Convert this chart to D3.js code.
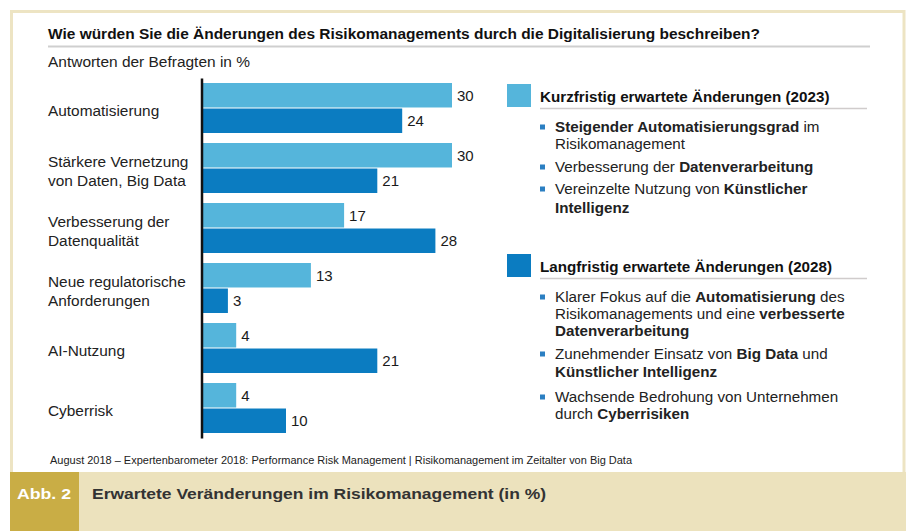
<!DOCTYPE html>
<html>
<head>
<meta charset="utf-8">
<script src="https://cdn.jsdelivr.net/npm/d3@7"></script>
<style>
  html, body { margin: 0; padding: 0; background: #ffffff; }
  svg { display: block; }
  text { font-family: "Liberation Sans", Arial, sans-serif; }
</style>
</head>
<body>
<svg id="chart" width="910" height="531"></svg>
<script>
// ---------- DATA ----------
const categories = ["Automatisierung", "Stärkere Vernetzung von Daten, Big Data", "Verbesserung der Datenqualität", "Neue regulatorische Anforderungen", "AI-Nutzung", "Cyberrisk"];
const categoryLines = [["Automatisierung"], ["Stärkere Vernetzung", "von Daten, Big Data"], ["Verbesserung der", "Datenqualität"], ["Neue regulatorische", "Anforderungen"], ["AI-Nutzung"], ["Cyberrisk"]];
const seriesNames = ["Kurzfristig erwartete Änderungen (2023)", "Langfristig erwartete Änderungen (2028)"];
const shortTerm2023 = [30, 30, 17, 13, 4, 4];
const longTerm2028 = [24, 21, 28, 3, 21, 10];
const seriesColors = ["#55b5db", "#0b7cc1"];

const title = "Wie würden Sie die Änderungen des Risikomanagements durch die Digitalisierung beschreiben?";
const subtitle = "Antworten der Befragten in %";
const sourceNote = "August 2018 – Expertenbarometer 2018: Performance Risk Management | Risikomanagement im Zeitalter von Big Data";
const figLabel = "Abb. 2";
const figCaption = "Erwartete Veränderungen im Risikomanagement (in %)";

// legend bullet lines: arrays of [text, bold]
const bullets2023 = [
  [[["Steigender Automatisierungsgrad", true], [" im", false]], [["Risikomanagement", false]]],
  [[["Verbesserung der ", false], ["Datenverarbeitung", true]]],
  [[["Vereinzelte Nutzung von ", false], ["Künstlicher", true]], [["Intelligenz", true]]]
];
const bullets2028 = [
  [[["Klarer Fokus auf die ", false], ["Automatisierung", true], [" des", false]],
   [["Risikomanagements und eine ", false], ["verbesserte", true]],
   [["Datenverarbeitung", true]]],
  [[["Zunehmender Einsatz von ", false], ["Big Data", true], [" und", false]],
   [["Künstlicher Intelligenz", true]]],
  [[["Wachsende Bedrohung von Unternehmen", false]],
   [["durch ", false], ["Cyberrisiken", true]]]
];

// ---------- DRAW ----------
const svg = d3.select("#chart");

// frame
svg.append("rect").attr("x", 11.5).attr("y", 11.5).attr("width", 892.5).attr("height", 470)
  .attr("fill", "#ffffff").attr("stroke", "#ede4c3").attr("stroke-width", 3);
// caption band
svg.append("rect").attr("x", 10).attr("y", 472).attr("width", 896).attr("height", 59).attr("fill", "#ece2bd");
svg.append("rect").attr("x", 10).attr("y", 472).attr("width", 69).attr("height", 59).attr("fill", "#c9ad45");
svg.append("text").attr("x", 44).attr("y", 499).attr("text-anchor", "middle")
  .attr("fill", "#ffffff").attr("font-weight", "bold").attr("font-size", 15).attr("textLength", 54)
  .attr("lengthAdjust", "spacingAndGlyphs").text(figLabel);
svg.append("text").attr("x", 92).attr("y", 499)
  .attr("fill", "#333333").attr("font-weight", "bold").attr("font-size", 15).attr("textLength", 454)
  .attr("lengthAdjust", "spacingAndGlyphs").text(figCaption);

// title
svg.append("text").attr("x", 48).attr("y", 39).attr("font-weight", "bold").attr("font-size", 14.5)
  .attr("fill", "#111").attr("textLength", 712).attr("lengthAdjust", "spacingAndGlyphs").text(title);
svg.append("line").attr("x1", 48).attr("x2", 870).attr("y1", 46.5).attr("y2", 46.5)
  .attr("stroke", "#cfcfcf").attr("stroke-width", 2);
svg.append("text").attr("x", 48).attr("y", 67).attr("font-size", 14).attr("fill", "#222")
  .attr("textLength", 202).attr("lengthAdjust", "spacingAndGlyphs").text(subtitle);

// scales
const y = d3.scaleBand().domain(categories).range([78, 438]).paddingInner(1 / 6).paddingOuter(1 / 12);
const ySub = d3.scaleBand().domain([0, 1]).range([0, y.bandwidth()]).paddingInner(0.04);
const x = d3.scaleLinear().domain([0, 30]).range([203, 452]);

const rows = categories.map((c, i) => ({ cat: c, vals: [shortTerm2023[i], longTerm2028[i]], lines: categoryLines[i] }));

const g = svg.append("g");
const grp = g.selectAll("g.grp").data(rows).join("g").attr("class", "grp")
  .attr("transform", d => `translate(0,${y(d.cat)})`);

grp.selectAll("rect").data(d => d.vals.map((v, k) => ({ v, k }))).join("rect")
  .attr("x", x(0)).attr("y", d => ySub(d.k)).attr("width", d => x(d.v) - x(0))
  .attr("height", ySub.bandwidth()).attr("fill", d => seriesColors[d.k]);

grp.selectAll("text.val").data(d => d.vals.map((v, k) => ({ v, k }))).join("text").attr("class", "val")
  .attr("x", d => x(d.v) + 5).attr("y", d => ySub(d.k) + ySub.bandwidth() / 2)
  .attr("dy", "0.36em").attr("font-size", 15).attr("fill", "#1a1a1a").text(d => d.v);

// category labels
grp.each(function (d) {
  const n = d.lines.length;
  const t = d3.select(this).append("text").attr("font-size", 15.4).attr("fill", "#222");
  d.lines.forEach((ln, i) => {
    t.append("tspan").attr("x", 48)
      .attr("y", y.bandwidth() / 2 + (i - (n - 1) / 2) * 19 + (n > 1 ? 3 : 2))
      .attr("dy", "0.36em").text(ln);
  });
});

// axis line
const axis = d3.axisLeft(y).tickSize(0).tickSizeOuter(0).tickFormat("");
const ax = svg.append("g").attr("transform", "translate(201.5,0)").call(axis);
ax.select(".domain").attr("stroke", "#111").attr("stroke-width", 2.5);

// legend
function legendBlock(top, color, name, items, lineYs) {
  const lg = svg.append("g");
  lg.append("rect").attr("x", 507).attr("y", top).attr("width", 24).attr("height", 23).attr("fill", color);
  lg.append("text").attr("x", 540).attr("y", top + 18).attr("font-weight", "bold").attr("font-size", 15.2)
    .attr("fill", "#111").text(name);
  lg.append("line").attr("x1", 540).attr("x2", 867).attr("y1", top + 24.5).attr("y2", top + 24.5)
    .attr("stroke", "#d0cccc").attr("stroke-width", 1.5);
  let li = 0;
  items.forEach(item => {
    item.forEach((line, j) => {
      const yy = lineYs[li++];
      if (j === 0) {
        lg.append("rect").attr("x", 540).attr("y", yy - 2.5).attr("width", 5).attr("height", 5).attr("fill", "#2b7fc2");
      }
      const t = lg.append("text").attr("x", 555).attr("y", yy).attr("dy", "0.36em")
        .attr("font-size", 15.2).attr("fill", "#222");
      line.forEach(([s, b]) => t.append("tspan").attr("font-weight", b ? "bold" : "normal").text(s));
    });
  });
}
legendBlock(84, seriesColors[0], seriesNames[0], bullets2023, [127, 144, 167, 189, 208]);
legendBlock(254, seriesColors[1], seriesNames[1], bullets2028, [297, 314, 331, 354, 372, 397, 414]);

// source
svg.append("text").attr("x", 50).attr("y", 464).attr("font-size", 10).attr("fill", "#222")
  .attr("textLength", 582).attr("lengthAdjust", "spacingAndGlyphs").text(sourceNote);
</script>
</body>
</html>
